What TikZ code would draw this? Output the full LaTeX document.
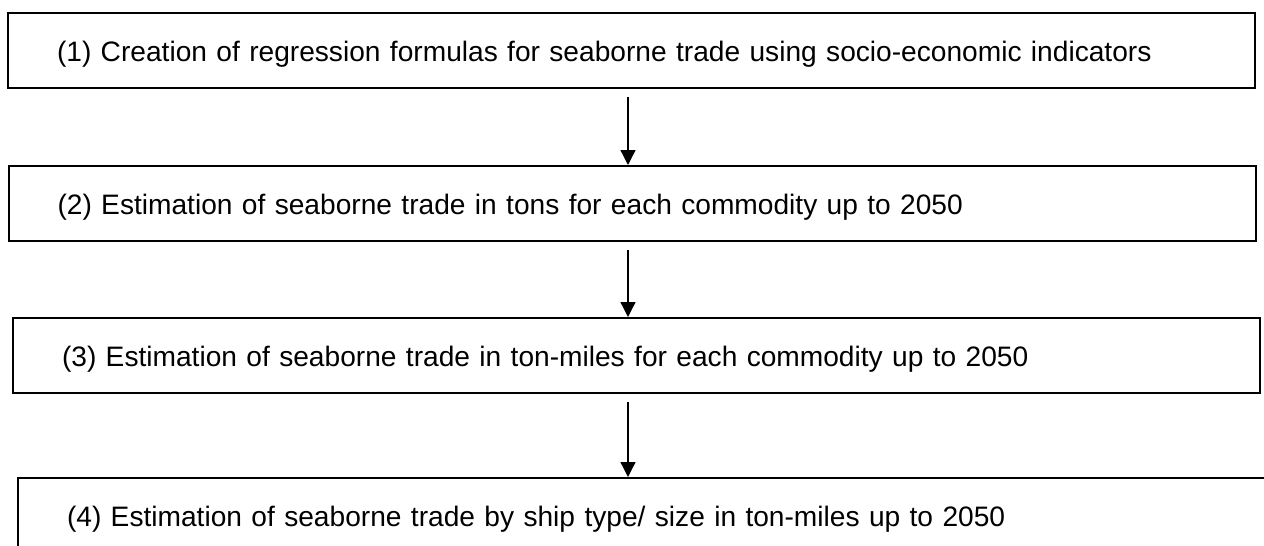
\documentclass[tikz,border=0pt]{standalone}
\usepackage{fontspec}
\setmainfont{Liberation Sans}
\usetikzlibrary{arrows.meta,calc}

\begin{document}
\begin{tikzpicture}[x=0.75pt, y=-0.75pt,
  stage/.style={draw, line width=1.5pt, text width=861.75pt, inner xsep=36.75pt,
    inner ysep=0pt, minimum height=56.25pt, align=left,
    text height=16.5pt, text depth=0pt,
    font=\fontsize{21.1}{25}\selectfont},
  flow/.style={-{Triangle[width=11.25pt, length=11.25pt]}, line width=1pt}]
  \useasboundingbox (0, 0) rectangle (1264, 546);
  \clip (0, 0) rectangle (1264, 546);
  \node[stage] (s1) at (631.5, 50) {(1) Creation of regression formulas for seaborne trade using socio-economic indicators};
  \node[stage] (s2) at (632, 203.5) {(2) Estimation of seaborne trade in tons for each commodity up to 2050};
  \node[stage] (s3) at (636.5, 355.5) {(3) Estimation of seaborne trade in ton-miles for each commodity up to 2050};
  \node[stage] (s4) at (641.5, 515.5) {(4) Estimation of seaborne trade by ship type/ size in ton-miles up to 2050};
  \coordinate (axis) at (628, 0);
  \foreach \a/\b in {s1/s2, s2/s3, s3/s4}{
    \draw[flow] ($(\a.south -| axis) + (0, 8)$) -- (\b.north -| axis);
  }
\end{tikzpicture}
\end{document}
